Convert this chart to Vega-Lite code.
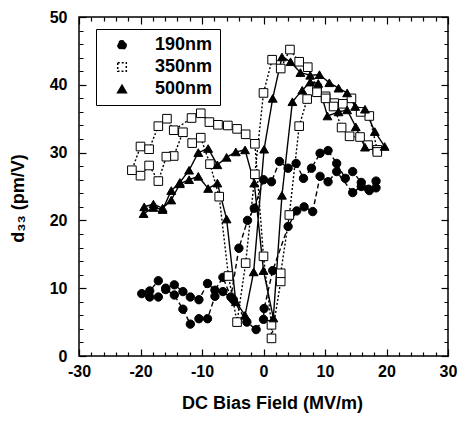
{
  "$schema": "https://vega.github.io/schema/vega-lite/v6.json",
  "width": 369,
  "height": 339,
  "autosize": "none",
  "padding": {"left": 79, "top": 17, "right": 12, "bottom": 68},
  "background": "white",
  "config": {
    "font": "Liberation Sans",
    "view": {"stroke": "black", "strokeWidth": 1.5},
    "axis": {
      "labelFont": "Liberation Sans", "labelFontSize": 16, "labelFontWeight": "bold", "labelColor": "black",
      "titleFont": "Liberation Sans", "titleFontSize": 18, "titleFontWeight": "bold", "titleColor": "black",
      "domain": false, "grid": false, "tickColor": "black", "tickWidth": 1.2, "tickSize": 7, "offset": -7,
      "tickDash": {"condition": {"test": "datum.value % 10 !== 0", "value": [0, 3, 4, 100]}, "value": [20, 0]}
    }
  },
  "data": {"values": [
    {"s":"190nm","i":1,"x":18.3,"y":25.8},{"s":"190nm","i":2,"x":17.1,"y":24.6},{"s":"190nm","i":3,"x":15.9,"y":25.6},{"s":"190nm","i":4,"x":14.5,"y":27.2},{"s":"190nm","i":5,"x":13.3,"y":26.2},{"s":"190nm","i":6,"x":11.9,"y":28.4},{"s":"190nm","i":7,"x":10.5,"y":30.3},{"s":"190nm","i":8,"x":9.2,"y":29.9},{"s":"190nm","i":9,"x":7.8,"y":27.7},{"s":"190nm","i":10,"x":6.5,"y":26.2},{"s":"190nm","i":11,"x":5.3,"y":28.4},{"s":"190nm","i":12,"x":4.0,"y":27.7},{"s":"190nm","i":13,"x":2.6,"y":28.7},{"s":"190nm","i":14,"x":1.3,"y":25.7},{"s":"190nm","i":15,"x":0.0,"y":26.0},{"s":"190nm","i":16,"x":-1.5,"y":21.8},{"s":"190nm","i":17,"x":-2.6,"y":20.0},{"s":"190nm","i":18,"x":-4.0,"y":15.9},{"s":"190nm","i":19,"x":-5.3,"y":8.7},{"s":"190nm","i":20,"x":-6.6,"y":11.6},{"s":"190nm","i":21,"x":-7.9,"y":9.7},{"s":"190nm","i":22,"x":-9.1,"y":10.7},{"s":"190nm","i":23,"x":-10.5,"y":8.3},{"s":"190nm","i":24,"x":-11.9,"y":8.7},{"s":"190nm","i":25,"x":-13.1,"y":9.5},{"s":"190nm","i":26,"x":-14.5,"y":10.5},{"s":"190nm","i":27,"x":-15.9,"y":10.0},{"s":"190nm","i":28,"x":-17.1,"y":11.1},{"s":"190nm","i":29,"x":-18.5,"y":9.6},{"s":"190nm","i":30,"x":-19.8,"y":9.2},
    {"s":"190nm","i":31,"x":-18.5,"y":8.7},{"s":"190nm","i":32,"x":-17.1,"y":8.7},{"s":"190nm","i":33,"x":-15.9,"y":9.8},{"s":"190nm","i":34,"x":-14.5,"y":9.0},{"s":"190nm","i":35,"x":-13.1,"y":6.9},{"s":"190nm","i":36,"x":-11.9,"y":4.7},{"s":"190nm","i":37,"x":-10.5,"y":5.5},{"s":"190nm","i":38,"x":-9.1,"y":5.5},{"s":"190nm","i":39,"x":-7.9,"y":8.8},{"s":"190nm","i":40,"x":-6.6,"y":9.5},{"s":"190nm","i":41,"x":-4.9,"y":8.3},{"s":"190nm","i":42,"x":-2.7,"y":5.0},{"s":"190nm","i":43,"x":-1.2,"y":3.9},{"s":"190nm","i":44,"x":0.0,"y":5.4},{"s":"190nm","i":45,"x":0.1,"y":7.0},{"s":"190nm","i":46,"x":1.5,"y":12.6},{"s":"190nm","i":47,"x":4.0,"y":19.1},{"s":"190nm","i":48,"x":5.4,"y":21.4},{"s":"190nm","i":49,"x":6.6,"y":22.0},{"s":"190nm","i":50,"x":8.0,"y":21.3},{"s":"190nm","i":51,"x":9.2,"y":26.5},{"s":"190nm","i":52,"x":10.5,"y":25.7},{"s":"190nm","i":53,"x":11.9,"y":27.2},{"s":"190nm","i":54,"x":14.5,"y":24.1},{"s":"190nm","i":55,"x":15.9,"y":25.0},{"s":"190nm","i":56,"x":17.2,"y":24.4},{"s":"190nm","i":57,"x":18.3,"y":24.8},
    {"s":"350nm","i":1,"x":18.5,"y":30.4},{"s":"350nm","i":2,"x":17.2,"y":35.4},{"s":"350nm","i":3,"x":15.8,"y":36.0},{"s":"350nm","i":4,"x":14.3,"y":38.0},{"s":"350nm","i":5,"x":12.9,"y":37.2},{"s":"350nm","i":6,"x":11.5,"y":37.3},{"s":"350nm","i":7,"x":10.1,"y":38.3},{"s":"350nm","i":8,"x":8.7,"y":39.5},{"s":"350nm","i":9,"x":7.2,"y":42.6},{"s":"350nm","i":10,"x":5.8,"y":43.4},{"s":"350nm","i":11,"x":4.3,"y":45.2},{"s":"350nm","i":12,"x":2.8,"y":42.4},{"s":"350nm","i":13,"x":1.4,"y":43.7},{"s":"350nm","i":14,"x":0.0,"y":38.8},{"s":"350nm","i":15,"x":-1.4,"y":26.8},{"s":"350nm","i":16,"x":-2.9,"y":13.7},{"s":"350nm","i":17,"x":-4.3,"y":5.0},{"s":"350nm","i":18,"x":-5.7,"y":11.8},{"s":"350nm","i":19,"x":-7.2,"y":23.5},{"s":"350nm","i":20,"x":-8.7,"y":28.3},{"s":"350nm","i":21,"x":-10.2,"y":32.2},{"s":"350nm","i":22,"x":-11.6,"y":31.4},{"s":"350nm","i":23,"x":-13.1,"y":33.0},{"s":"350nm","i":24,"x":-14.6,"y":29.5},{"s":"350nm","i":25,"x":-15.8,"y":29.4},{"s":"350nm","i":26,"x":-17.1,"y":25.8},{"s":"350nm","i":27,"x":-18.6,"y":28.1},{"s":"350nm","i":28,"x":-20.0,"y":26.6},{"s":"350nm","i":29,"x":-21.4,"y":27.4},
    {"s":"350nm","i":30,"x":-20.0,"y":30.9},{"s":"350nm","i":31,"x":-18.6,"y":30.5},{"s":"350nm","i":32,"x":-17.1,"y":33.9},{"s":"350nm","i":33,"x":-15.7,"y":35.0},{"s":"350nm","i":34,"x":-14.6,"y":33.3},{"s":"350nm","i":35,"x":-11.7,"y":35.1},{"s":"350nm","i":36,"x":-10.2,"y":35.8},{"s":"350nm","i":37,"x":-8.8,"y":34.5},{"s":"350nm","i":38,"x":-7.4,"y":34.1},{"s":"350nm","i":39,"x":-5.8,"y":34.0},{"s":"350nm","i":40,"x":-4.3,"y":33.5},{"s":"350nm","i":41,"x":-2.9,"y":32.7},{"s":"350nm","i":42,"x":-1.4,"y":31.3},{"s":"350nm","i":43,"x":0.0,"y":14.7},{"s":"350nm","i":44,"x":1.3,"y":4.6},{"s":"350nm","i":45,"x":1.3,"y":2.6},{"s":"350nm","i":46,"x":2.8,"y":11.0},{"s":"350nm","i":47,"x":2.8,"y":12.2},{"s":"350nm","i":48,"x":4.2,"y":20.8},{"s":"350nm","i":49,"x":5.8,"y":33.9},{"s":"350nm","i":50,"x":7.1,"y":37.9},{"s":"350nm","i":51,"x":8.7,"y":38.9},{"s":"350nm","i":52,"x":10.1,"y":38.0},{"s":"350nm","i":53,"x":11.4,"y":36.8},{"s":"350nm","i":54,"x":12.7,"y":33.7},{"s":"350nm","i":55,"x":14.0,"y":32.4},{"s":"350nm","i":56,"x":15.7,"y":32.3},{"s":"350nm","i":57,"x":17.0,"y":31.1},{"s":"350nm","i":58,"x":18.5,"y":30.1},
    {"s":"500nm","i":1,"x":19.7,"y":30.9},{"s":"500nm","i":2,"x":18.1,"y":33.1},{"s":"500nm","i":3,"x":16.5,"y":36.4},{"s":"500nm","i":4,"x":14.9,"y":36.8},{"s":"500nm","i":5,"x":13.6,"y":38.8},{"s":"500nm","i":6,"x":12.2,"y":39.5},{"s":"500nm","i":7,"x":10.7,"y":40.3},{"s":"500nm","i":8,"x":9.1,"y":41.5},{"s":"500nm","i":9,"x":7.6,"y":41.4},{"s":"500nm","i":10,"x":6.0,"y":41.8},{"s":"500nm","i":11,"x":4.4,"y":43.4},{"s":"500nm","i":12,"x":3.0,"y":44.1},{"s":"500nm","i":13,"x":1.5,"y":38.0},{"s":"500nm","i":14,"x":0.1,"y":30.5},{"s":"500nm","i":15,"x":-1.6,"y":12.4},{"s":"500nm","i":16,"x":-3.0,"y":6.0},{"s":"500nm","i":17,"x":-4.5,"y":8.0},{"s":"500nm","i":18,"x":-6.0,"y":20.2},{"s":"500nm","i":19,"x":-7.5,"y":25.5},{"s":"500nm","i":20,"x":-9.0,"y":24.7},{"s":"500nm","i":21,"x":-10.6,"y":26.5},{"s":"500nm","i":22,"x":-12.1,"y":26.0},{"s":"500nm","i":23,"x":-13.6,"y":25.4},{"s":"500nm","i":24,"x":-15.0,"y":23.0},{"s":"500nm","i":25,"x":-16.4,"y":21.8},{"s":"500nm","i":26,"x":-17.9,"y":22.4},{"s":"500nm","i":27,"x":-19.4,"y":22.0},
    {"s":"500nm","i":28,"x":-19.5,"y":21.0},{"s":"500nm","i":29,"x":-17.9,"y":21.9},{"s":"500nm","i":30,"x":-16.4,"y":21.6},{"s":"500nm","i":31,"x":-15.0,"y":24.4},{"s":"500nm","i":32,"x":-13.6,"y":25.6},{"s":"500nm","i":33,"x":-12.1,"y":27.4},{"s":"500nm","i":34,"x":-10.6,"y":30.0},{"s":"500nm","i":35,"x":-9.0,"y":30.6},{"s":"500nm","i":36,"x":-7.5,"y":28.2},{"s":"500nm","i":37,"x":-6.0,"y":29.3},{"s":"500nm","i":38,"x":-4.5,"y":30.1},{"s":"500nm","i":39,"x":-3.0,"y":30.4},{"s":"500nm","i":40,"x":-1.5,"y":25.5},{"s":"500nm","i":41,"x":0.0,"y":12.6},{"s":"500nm","i":42,"x":1.6,"y":5.6},{"s":"500nm","i":43,"x":3.0,"y":23.7},{"s":"500nm","i":44,"x":4.7,"y":37.5},{"s":"500nm","i":45,"x":6.3,"y":39.2},{"s":"500nm","i":46,"x":7.6,"y":40.4},{"s":"500nm","i":47,"x":8.9,"y":40.2},{"s":"500nm","i":48,"x":10.4,"y":35.4},{"s":"500nm","i":49,"x":12.2,"y":36.0},{"s":"500nm","i":50,"x":13.6,"y":36.3},{"s":"500nm","i":51,"x":15.0,"y":33.8},{"s":"500nm","i":52,"x":16.5,"y":30.8}
  ]},
  "layer": [
    {
      "mark": {"type": "line", "color": "black", "strokeWidth": 1.4},
      "encoding": {
        "x": {"field": "x", "type": "quantitative", "scale": {"domain": [-30, 30], "nice": false, "zero": false},
          "axis": {
            "values": [-30,-28,-26,-24,-22,-20,-18,-16,-14,-12,-10,-8,-6,-4,-2,0,2,4,6,8,10,12,14,16,18,20,22,24,26,28,30],
            "labelExpr": "datum.value % 10 === 0 ? toString(datum.value) : ''",
            "labelPadding": 7, "labelOverlap": false, "labelFlush": false,
            "title": "DC Bias Field (MV/m)", "titleX": 193, "titleY": 54, "titleBaseline": "middle"
          }},
        "y": {"field": "y", "type": "quantitative", "scale": {"domain": [0, 50], "nice": false, "zero": false},
          "axis": {
            "values": [0,2,4,6,8,10,12,14,16,18,20,22,24,26,28,30,32,34,36,38,40,42,44,46,48,50],
            "labelExpr": "datum.value % 10 === 0 ? toString(datum.value) : ''",
            "labelPadding": 12, "labelOverlap": false, "labelFlush": false,
            "title": "d₃₃ (pm/V)", "titleX": -68, "titleY": 181, "titleBaseline": "middle", "titleAlign": "center", "titleAngle": -90
          }},
        "detail": {"field": "s", "type": "nominal"},
        "strokeDash": {"field": "s", "type": "nominal", "scale": {"domain": ["190nm","350nm","500nm"], "range": [[5,3],[2,2],[1,0]]},
          "legend": {
            "orient": "none", "legendX": 17, "legendY": 12, "title": null,
            "labelFont": "Liberation Sans", "labelFontSize": 18, "labelFontWeight": "bold", "labelColor": "black",
            "symbolOffset": 10, "labelOffset": 24, "padding": 7, "rowPadding": 4,
            "strokeColor": "black", "fillColor": "white"
          }},
        "order": {"field": "i", "type": "quantitative"}
      }
    },
    {
      "mark": {"type": "point", "filled": true, "stroke": "black", "strokeWidth": 1, "opacity": 1},
      "encoding": {
        "x": {"field": "x", "type": "quantitative",
          "axis": {
            "orient": "top",
            "values": [-30,-28,-26,-24,-22,-20,-18,-16,-14,-12,-10,-8,-6,-4,-2,0,2,4,6,8,10,12,14,16,18,20,22,24,26,28,30],
            "labels": false, "title": null
          }},
        "y": {"field": "y", "type": "quantitative",
          "axis": {
            "orient": "right",
            "values": [0,2,4,6,8,10,12,14,16,18,20,22,24,26,28,30,32,34,36,38,40,42,44,46,48,50],
            "labels": false, "title": null
          }},
        "shape": {"field": "s", "type": "nominal",
          "scale": {"domain": ["190nm","350nm","500nm"], "range": ["circle","square","triangle-up"]},
          "legend": null},
        "fill": {"field": "s", "type": "nominal", "scale": {"domain": ["190nm","350nm","500nm"], "range": ["black","white","black"]}, "legend": null},
        "size": {"field": "s", "type": "nominal", "scale": {"domain": ["190nm","350nm","500nm"], "range": [70,78,95]}, "legend": null}
      }
    }
  ],
  "resolve": {"axis": {"x": "independent", "y": "independent"}}
}
